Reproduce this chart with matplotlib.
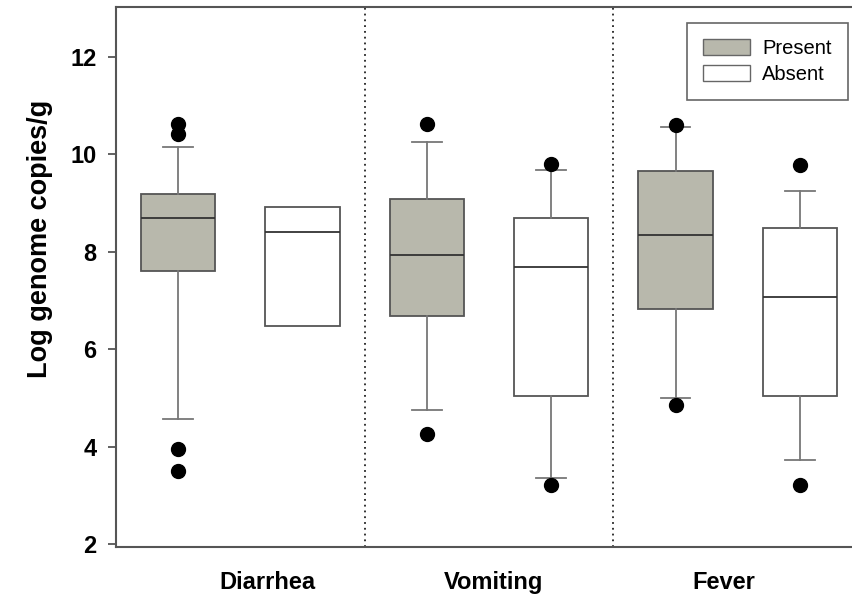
import numpy as np
import matplotlib.pyplot as plt
from matplotlib.patches import Patch

plt.rcParams['font.family'] = ['Liberation Sans', 'DejaVu Sans']

# groups and box statistics
groups = ['Diarrhea', 'Vomiting', 'Fever']
group_label_pos = [1.72, 3.54, 5.39]
status = ['Present', 'Absent', 'Present', 'Absent', 'Present', 'Absent']

q1 = [7.61, 6.48, 6.69, 5.04, 6.82, 5.03]
med = [8.685, 8.40, 7.93, 7.69, 8.35, 7.06]
q3 = [9.19, 8.92, 9.08, 8.685, 9.66, 8.48]
whislo = [4.57, 6.48, 4.75, 3.35, 5.00, 3.73]
whishi = [10.15, 8.92, 10.25, 9.68, 10.56, 9.25]
fliers = [[10.62, 10.41, 3.96, 3.49], [], [10.61, 4.25], [9.79, 3.21],
          [10.60, 4.86], [9.78, 3.21]]

present_col = '#b8b8ac'
absent_col = '#ffffff'

fig = plt.figure(figsize=(8.53, 5.99), dpi=100)
ax = fig.add_axes([0.136, 0.0868, 0.8746, 0.9015])

stats = []
for i in range(len(q1)):
    stats.append(dict(q1=q1[i], med=med[i], q3=q3[i], whislo=whislo[i],
                      whishi=whishi[i], fliers=fliers[i]))

pos = np.arange(1, len(stats) + 1)
bp = ax.bxp(stats, positions=pos, widths=0.6, patch_artist=True,
            showfliers=True, capwidths=0.24,
            boxprops=dict(linewidth=1.3, edgecolor='#555555'),
            medianprops=dict(color='#333333', linewidth=1.3),
            whiskerprops=dict(color='#777777', linewidth=1.3),
            capprops=dict(color='#777777', linewidth=1.3),
            flierprops=dict(marker='o', markerfacecolor='black',
                            markeredgecolor='black', markersize=10))
for box, s in zip(bp['boxes'], status):
    box.set_facecolor(present_col if s == 'Present' else absent_col)
# absent diarrhea has no whiskers
for k in (2, 3):
    bp['whiskers'][k].set_visible(False)
    bp['caps'][k].set_visible(False)

for x in (2.5, 4.5):
    ax.axvline(x, color='#222222', linestyle=(0, (1, 2.2)), linewidth=1.3)

ax.set_xlim(0.5, 6.5)
ax.set_ylim(1.94, 13.02)
ax.set_yticks([2, 4, 6, 8, 10, 12])
ax.set_xticks(group_label_pos)
ax.set_xticklabels(groups)
ax.tick_params(axis='x', length=0, pad=17, labelsize=17)
ax.tick_params(axis='y', length=6, width=1.3, color='#555555', pad=8,
               labelsize=17)
for lab in ax.get_xticklabels() + ax.get_yticklabels():
    lab.set_fontweight('bold')
for sp in ax.spines.values():
    sp.set_color('#555555')
    sp.set_linewidth(1.5)

ax.set_ylabel('Log genome copies/g', fontsize=19.5, fontweight='bold')
ax.yaxis.set_label_coords(-0.085, 0.57)

handles = [Patch(facecolor=present_col, edgecolor='#666666', label='Present'),
           Patch(facecolor=absent_col, edgecolor='#666666', label='Absent')]
leg = ax.legend(handles=handles, loc='upper right',
                bbox_to_anchor=(848 / 853, 1 - 23 / 599),
                bbox_transform=fig.transFigure, fontsize=14.5, fancybox=False,
                edgecolor='#666666', framealpha=1, handlelength=2.35,
                handleheight=0.85, handletextpad=0.6, labelspacing=0.35,
                borderpad=0.8, borderaxespad=0)
leg.get_frame().set_linewidth(1.2)

fig.savefig('out.png', dpi=100)
